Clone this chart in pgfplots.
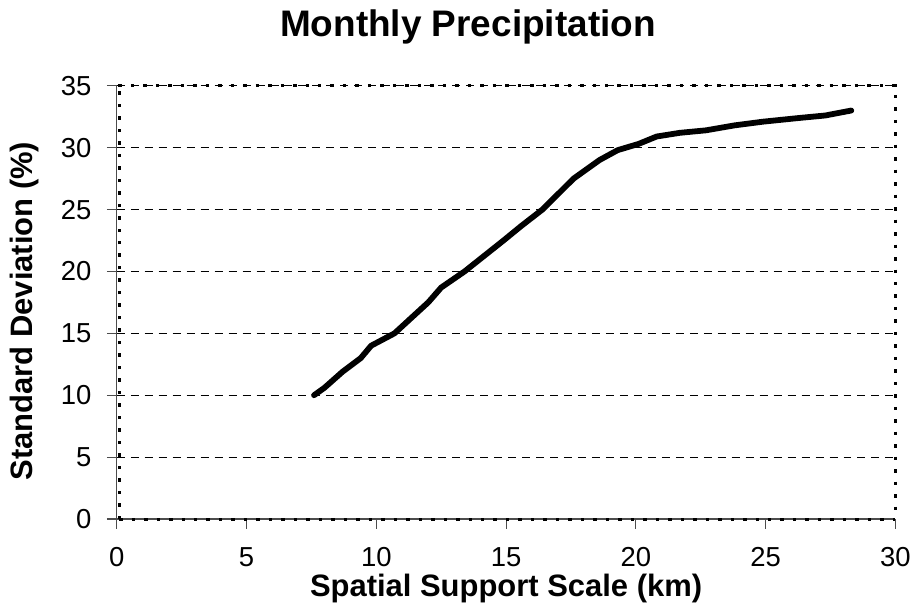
\documentclass[border=0pt]{standalone}
\usepackage{pgfplots}
\pgfplotsset{compat=1.18}
\usepackage{fontspec}
\setmainfont{Liberation Sans}
\newcommand\tickfont{\fontsize{27.5pt}{32pt}\selectfont}
\newcommand\titlefont{\fontsize{37pt}{44pt}\selectfont\bfseries}
\newcommand\labfont{\fontsize{31pt}{36pt}\selectfont\bfseries}
\begin{document}
\begin{tikzpicture}
\begin{axis}[
  scale only axis,
  width=780pt, height=434pt,
  xmin=0, xmax=30, ymin=0, ymax=35,
  xtick={0,5,...,30}, ytick={0,5,...,35},
  axis x line*=bottom, axis y line*=left,
  axis line style={gray!60!black, line width=1.2pt, -},
  tick style={gray!60!black, line width=1.2pt},
  major tick length=10pt, tick align=outside,
  ymajorgrids, grid style={black, line width=0.8pt, dash pattern=on 8pt off 6pt},
  /pgf/number format/assume math mode=true,
  tick label style={font=\tickfont},
  xticklabel style={yshift=-15pt},
  yticklabel style={xshift=-12pt},
  title={Monthly Precipitation},
  title style={font=\titlefont, at={(rel axis cs:0.451,1.122)}, anchor=center},
  xlabel={Spatial Support Scale (km)},
  ylabel={Standard Deviation (\%)},
  label style={font=\labfont},
  xlabel style={at={(rel axis cs:0.5,-0.16)}, anchor=center},
  ylabel style={at={(rel axis cs:-0.118,0.48)}, anchor=center},
  clip=false,
]
\addplot[black, line width=5.8pt, line cap=round, line join=round] coordinates {
(7.6,10.0) (8.0,10.6) (8.7,11.9) (9.4,13.0) (9.8,14.0) (10.7,15.0) (12.0,17.5)
(12.5,18.7) (13.4,20.0) (14.9,22.5) (15.6,23.7) (16.4,25.0) (17.6,27.5)
(18.6,29.0) (19.3,29.8) (20.1,30.3) (20.8,30.9) (21.7,31.2) (22.7,31.4)
(23.8,31.8) (24.9,32.1) (26.3,32.4) (27.3,32.6) (28.3,33.0)
};
\draw[black, line width=3pt, dash pattern=on 3.5pt off 9pt] (rel axis cs:0.002,1) -- (rel axis cs:1,1) -- (rel axis cs:1,0.002);
\draw[black, line width=3pt, dash pattern=on 3.5pt off 9pt] (rel axis cs:0.003,0) -- (rel axis cs:1,0);
\draw[black, line width=3pt, dash pattern=on 3.5pt off 9pt] (rel axis cs:0.003,0) -- (rel axis cs:0.003,1);
\path (rel axis cs:-0.15,-0.2189) rectangle (rel axis cs:1.0218,1.198);
\end{axis}
\end{tikzpicture}
\end{document}
